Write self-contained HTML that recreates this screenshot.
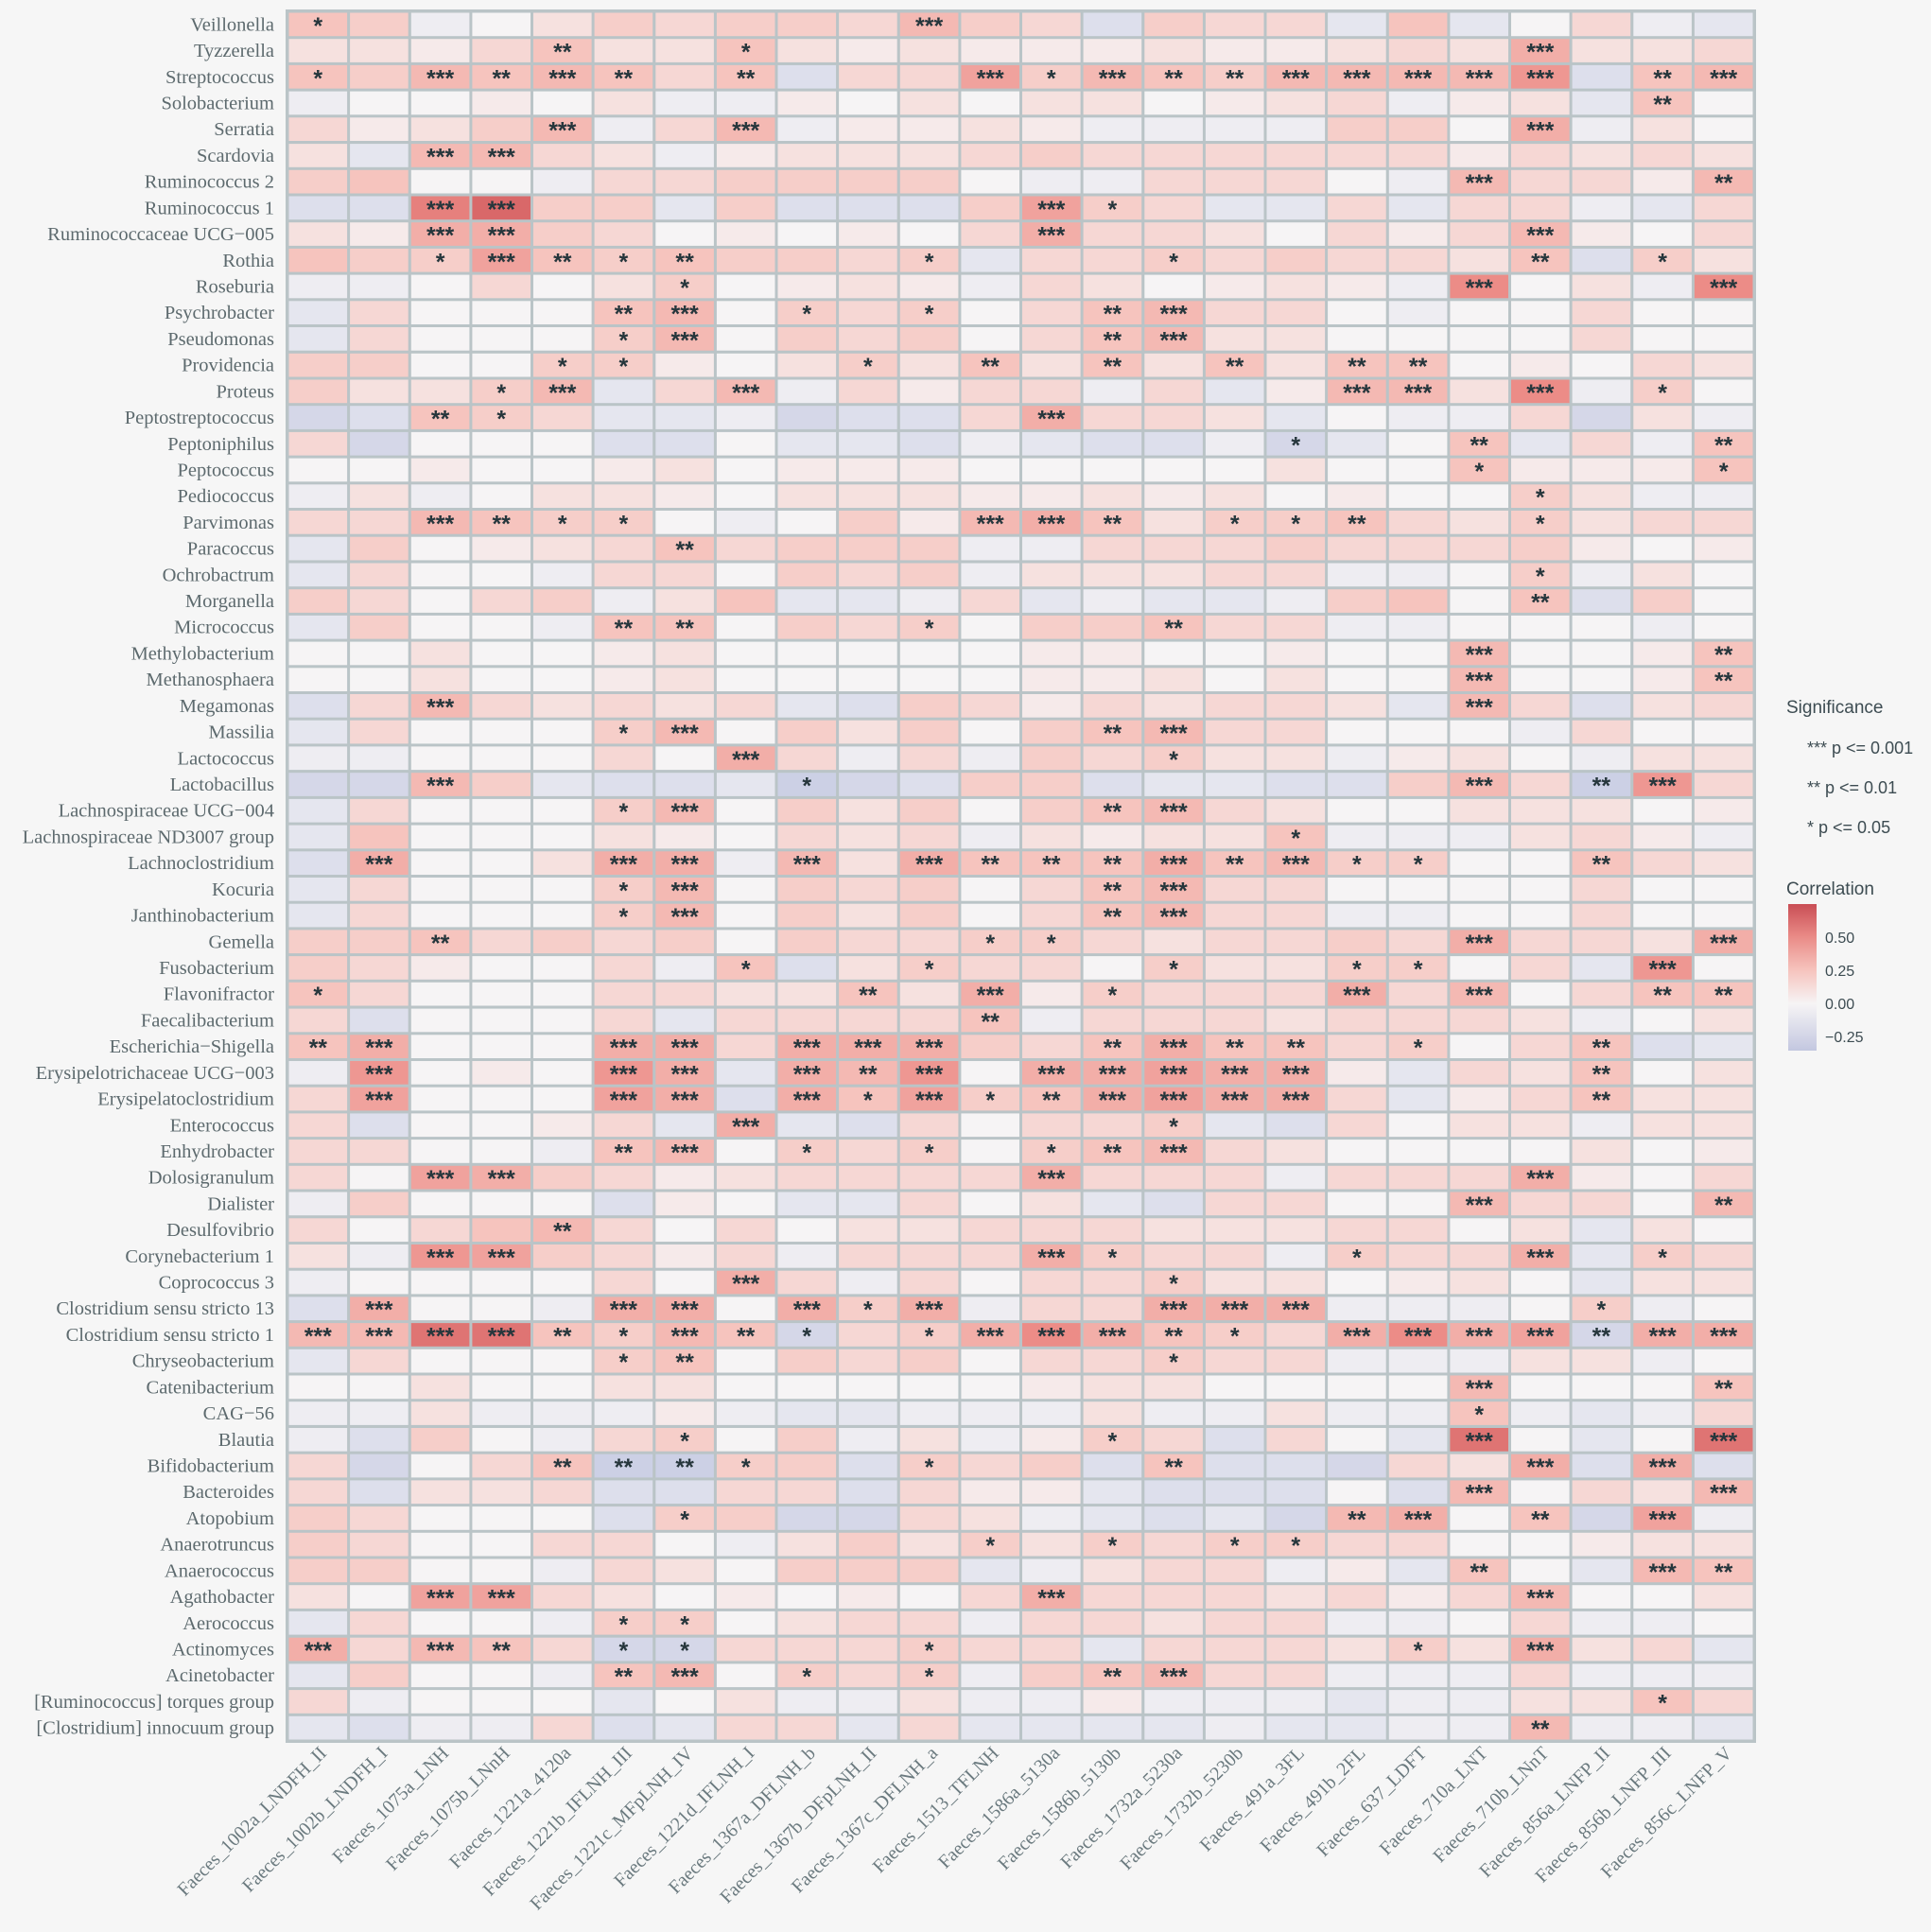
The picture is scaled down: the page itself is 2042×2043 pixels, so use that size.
<!DOCTYPE html>
<html><head><meta charset="utf-8"><style>
html,body{margin:0;padding:0;background:#f6f6f6;}
svg{display:block;}
</style></head><body>
<svg id="chart" width="2042" height="2043" xmlns="http://www.w3.org/2000/svg">
<rect x="0" y="0" width="2042" height="2043" fill="#f6f6f6"/>
<g id="cells"></g>
<g id="rowlabels"></g>
<g id="collabels"></g>
<g font-family="Liberation Sans, sans-serif" fill="#3d4c52">
<text x="1889" y="754" font-size="19">Significance</text>
<text x="1911" y="797" font-size="18">*** p &lt;= 0.001</text>
<text x="1911" y="839" font-size="18">** p &lt;= 0.01</text>
<text x="1911" y="881" font-size="18">* p &lt;= 0.05</text>
</g>
<defs><linearGradient id="cbar" x1="0" y1="0" x2="0" y2="1">
<stop offset="0" stop-color="#c94e55"/><stop offset="0.22" stop-color="#e98a86"/><stop offset="0.45" stop-color="#f6c3bd"/><stop offset="0.68" stop-color="#f6f4f5"/><stop offset="1" stop-color="#c3c7e0"/>
</linearGradient></defs>
<g font-family="Liberation Sans, sans-serif" fill="#3d4c52">
<text x="1889" y="946" font-size="19">Correlation</text>
<rect x="1891" y="956" width="30" height="155" fill="url(#cbar)"/>
<text x="1930" y="997" font-size="16">0.50</text>
<text x="1930" y="1032" font-size="16">0.25</text>
<text x="1930" y="1067" font-size="16">0.00</text>
<text x="1930" y="1102" font-size="16">−0.25</text>
</g>
</svg>
<script>
const columns = ["Faeces_1002a_LNDFH_II","Faeces_1002b_LNDFH_I","Faeces_1075a_LNH","Faeces_1075b_LNnH","Faeces_1221a_4120a","Faeces_1221b_IFLNH_III","Faeces_1221c_MFpLNH_IV","Faeces_1221d_IFLNH_I","Faeces_1367a_DFLNH_b","Faeces_1367b_DFpLNH_II","Faeces_1367c_DFLNH_a","Faeces_1513_TFLNH","Faeces_1586a_5130a","Faeces_1586b_5130b","Faeces_1732a_5230a","Faeces_1732b_5230b","Faeces_491a_3FL","Faeces_491b_2FL","Faeces_637_LDFT","Faeces_710a_LNT","Faeces_710b_LNnT","Faeces_856a_LNFP_II","Faeces_856b_LNFP_III","Faeces_856c_LNFP_V"];
const rows = ["Veillonella","Tyzzerella","Streptococcus","Solobacterium","Serratia","Scardovia","Ruminococcus 2","Ruminococcus 1","Ruminococcaceae UCG−005","Rothia","Roseburia","Psychrobacter","Pseudomonas","Providencia","Proteus","Peptostreptococcus","Peptoniphilus","Peptococcus","Pediococcus","Parvimonas","Paracoccus","Ochrobactrum","Morganella","Micrococcus","Methylobacterium","Methanosphaera","Megamonas","Massilia","Lactococcus","Lactobacillus","Lachnospiraceae UCG−004","Lachnospiraceae ND3007 group","Lachnoclostridium","Kocuria","Janthinobacterium","Gemella","Fusobacterium","Flavonifractor","Faecalibacterium","Escherichia−Shigella","Erysipelotrichaceae UCG−003","Erysipelatoclostridium","Enterococcus","Enhydrobacter","Dolosigranulum","Dialister","Desulfovibrio","Corynebacterium 1","Coprococcus 3","Clostridium sensu stricto 13","Clostridium sensu stricto 1","Chryseobacterium","Catenibacterium","CAG−56","Blautia","Bifidobacterium","Bacteroides","Atopobium","Anaerotruncus","Anaerococcus","Agathobacter","Aerococcus","Actinomyces","Acinetobacter","[Ruminococcus] torques group","[Clostridium] innocuum group"];
const correlations = [
[.25,.2,-.05,0,.1,.2,.15,.2,.2,.15,.3,.2,.15,-.15,.2,.15,.15,-.1,.25,-.1,0,.15,-.05,-.1],
[.1,.1,.05,.15,.25,.1,.1,.25,.1,.05,.1,.05,.05,.05,.1,.05,.05,.1,.15,.1,.35,.1,.1,.15],
[.25,.2,.3,.25,.3,.25,.15,.25,-.15,.15,.15,.4,.2,.3,.25,.2,.3,.3,.3,.3,.45,-.15,.25,.3],
[-.05,0,0,.05,0,.1,-.05,-.05,.05,0,.1,0,.1,.1,0,.05,.1,.15,-.05,.05,.1,-.1,.25,0],
[.15,.05,.1,.2,.3,-.05,.15,.3,-.05,.05,.05,.1,.05,-.05,-.05,-.05,-.05,.2,.2,0,.35,-.05,.1,0],
[.1,-.1,.3,.3,.15,.1,-.05,.05,.1,.1,.1,.15,.2,.15,.15,.15,.15,.15,.15,.05,.15,.1,.15,.1],
[.2,.25,0,0,-.05,.15,.15,.2,.2,.2,.2,0,-.05,-.05,.15,.15,.15,0,-.05,.3,.15,.15,.05,.3],
[-.15,-.15,.55,.65,.2,.2,-.1,.2,-.15,-.15,-.15,.2,.4,.2,.15,-.1,-.1,.15,-.1,.15,.15,-.05,-.1,.15],
[.1,.05,.35,.35,.2,.15,0,.05,0,.05,0,.15,.35,.15,.15,.1,0,.15,.05,.15,.3,.05,0,.15],
[.25,.2,.2,.4,.25,.2,.25,.2,.2,.15,.2,-.1,.15,.15,.2,.15,.2,.15,.15,.1,.25,-.15,.2,.1],
[-.05,-.05,0,.15,0,.1,.2,0,.05,.1,.05,-.05,.15,.1,0,.05,.1,.05,-.05,.5,0,.1,-.05,.5],
[-.1,.15,0,0,0,.25,.3,0,.2,.15,.2,0,.15,.25,.3,.15,.15,0,-.05,0,0,.15,0,0],
[-.1,.15,0,0,0,.2,.3,0,.2,.15,.2,0,.15,.25,.3,.1,.1,0,0,0,0,.15,0,0],
[.2,.2,0,0,.2,.2,.05,0,.1,.2,.1,.25,.1,.25,.1,.25,.1,.25,.25,0,.05,0,.15,.1],
[.2,.1,.1,.2,.3,-.1,.15,.3,-.05,.15,.05,.15,.15,-.05,.15,-.1,.05,.3,.3,.1,.5,-.05,.2,0],
[-.2,-.15,.25,.2,.15,-.1,-.1,-.05,-.2,-.15,-.15,.15,.35,.15,.15,.1,-.1,0,-.05,-.05,.15,-.2,.1,-.05],
[.15,-.2,0,0,0,-.15,-.15,0,-.1,-.1,-.15,-.05,-.1,-.15,-.15,-.05,-.2,-.1,0,.25,-.1,.15,-.05,.25],
[0,0,.05,0,0,.05,.1,0,.05,.05,.05,0,0,0,0,0,.1,0,0,.25,.05,.05,.05,.25],
[-.05,.1,-.05,0,.1,.1,.05,0,.1,.1,.1,.05,.05,.1,.05,.1,0,.05,0,0,.2,.1,-.05,-.05],
[.15,.15,.3,.25,.2,.2,0,-.05,0,.2,.05,.3,.35,.25,.1,.2,.2,.25,.15,.1,.2,.1,.15,.15],
[-.1,.2,0,.05,.1,.15,.25,.15,.2,.2,.2,-.05,-.05,.15,.15,.15,.2,.15,.15,.15,.2,.05,0,.05],
[-.1,.15,0,0,-.05,.15,.15,0,.2,.15,.2,-.05,.1,.1,.1,.15,.15,-.05,-.05,0,.2,-.05,.1,0],
[.2,.15,0,.15,.2,-.05,.1,.25,-.1,-.1,-.05,.15,-.1,-.05,-.1,-.1,-.05,.2,.25,0,.25,-.15,.2,0],
[-.1,.2,0,0,-.05,.25,.25,0,.2,.15,.2,0,.2,.2,.25,.15,.15,-.05,-.05,0,0,0,-.05,0],
[0,0,.1,0,0,.05,.1,0,0,0,0,0,.05,.05,0,0,.05,0,0,.3,0,0,.05,.25],
[0,0,.1,0,0,.05,.1,0,0,0,0,0,.05,.05,.1,0,.1,0,0,.3,0,0,.05,.25],
[-.15,.15,.3,.15,.1,.15,.1,.15,-.1,-.15,.2,.15,.05,.15,.1,.15,.15,.1,-.1,.3,.15,-.15,.1,.15],
[-.1,.15,0,0,0,.2,.3,0,.2,.1,.2,0,.2,.25,.3,.15,.15,0,0,0,-.05,.15,0,0],
[-.05,-.05,0,0,0,.15,0,.35,.15,-.05,.15,-.05,.2,.15,.2,.1,.1,-.05,.05,.1,0,-.05,.1,.1],
[-.2,-.2,.3,.2,-.1,-.15,-.15,-.1,-.25,-.2,-.15,.2,.2,-.15,-.1,-.1,-.15,-.15,.2,.3,.15,-.25,.45,.15],
[-.1,.15,0,0,0,.2,.3,0,.2,.1,.2,0,.2,.25,.3,.15,.1,0,0,.1,.1,.1,0,.05],
[-.1,.25,0,0,0,.1,.05,0,.15,.1,.15,-.05,.1,.05,.1,.1,.25,-.05,-.05,-.05,.1,.15,.05,-.05],
[-.15,.35,0,0,.1,.35,.35,-.05,.3,.1,.35,.25,.25,.25,.35,.25,.3,.2,.2,0,0,.25,.15,.1],
[-.1,.15,0,0,0,.2,.3,0,.2,.15,.2,0,.15,.25,.3,.15,.15,0,0,0,0,.15,0,0],
[-.1,.15,0,0,0,.2,.3,0,.2,.1,.2,0,.15,.25,.3,.15,.15,-.05,-.05,0,0,.15,0,0],
[.2,.2,.25,.15,.2,.15,.2,0,.2,.15,.15,.2,.2,.15,.1,.15,.15,.2,.15,.35,.15,.15,.1,.35],
[.2,.15,.05,0,0,.15,-.05,.25,-.15,.1,.2,.15,.15,0,.2,.1,.1,.2,.2,0,.15,-.1,.45,0],
[.25,.15,0,0,0,.15,.15,.1,.1,.25,.1,.35,.05,.2,.15,.15,.15,.35,.15,.3,0,.15,.25,.25],
[.15,-.15,0,0,0,.15,-.1,.15,.15,.15,.15,.25,-.05,.15,.15,.15,.1,.15,.15,.15,.1,-.05,0,.1],
[.25,.35,0,0,0,.35,.35,.15,.35,.35,.35,.2,.15,.25,.35,.25,.25,.15,.2,0,.15,.25,-.15,-.1],
[-.05,.45,0,.05,0,.45,.35,-.1,.35,.3,.45,0,.35,.35,.4,.35,.35,.05,-.1,.15,.1,.25,0,.1],
[.15,.4,0,0,0,.4,.35,-.15,.35,.25,.4,.2,.25,.35,.4,.35,.35,.15,-.1,.05,.15,.25,.1,.1],
[.15,-.15,0,0,.05,.15,-.1,.35,-.1,-.15,.15,0,.15,.15,.2,-.1,-.15,.15,0,.1,.1,-.05,.1,.1],
[.15,.15,0,0,-.05,.25,.3,0,.2,.15,.2,0,.2,.25,.3,.15,.1,0,0,0,0,.1,0,.05],
[.15,0,.4,.35,.2,.15,.05,.1,.15,.15,.15,.15,.35,.15,.15,.15,-.05,.15,.15,.15,.35,.05,0,.15],
[-.05,.2,0,0,0,-.15,.05,0,-.1,-.1,.15,0,.1,-.1,-.15,.15,.15,0,0,.3,.15,.15,0,.3],
[.15,0,.15,.25,.3,.15,0,.15,0,.1,.1,.15,.15,.15,.1,.1,.1,.15,.15,0,.1,-.1,.1,0],
[.1,-.05,.45,.4,.2,.15,.05,.15,-.05,.15,.15,.15,.35,.2,.15,.15,-.05,.2,.15,.15,.35,-.1,.2,.15],
[-.05,0,0,0,0,.15,0,.35,.15,-.05,.15,0,.15,.15,.2,.1,.1,0,.05,.1,0,-.1,.1,.1],
[-.15,.35,0,0,-.05,.35,.35,0,.35,.2,.35,-.05,.15,.15,.35,.35,.35,-.05,-.05,-.05,0,.2,-.05,0],
[.3,.3,.6,.6,.25,.2,.3,.25,-.2,.15,.2,.35,.5,.35,.25,.2,.15,.35,.5,.35,.4,-.2,.35,.35],
[-.1,.15,0,0,0,.2,.25,0,.2,.15,.2,0,.15,.15,.2,.15,.15,-.05,-.05,-.05,.1,.1,-.05,0],
[0,0,.1,0,0,.1,.1,0,0,0,0,0,.05,.1,.1,0,0,0,0,.3,0,0,0,.25],
[-.05,-.05,.1,-.05,-.05,-.05,.05,-.05,-.1,-.1,-.05,-.05,-.05,.1,-.05,-.05,.1,-.05,-.05,.25,-.05,-.1,-.05,.15],
[-.05,-.15,.2,0,-.05,.15,.2,0,.2,-.05,.1,-.05,.05,.2,.15,-.15,.15,0,-.1,.6,0,-.1,0,.6],
[.15,-.2,0,.15,.25,-.25,-.25,.2,.2,-.15,.2,.15,.2,-.15,.25,-.15,-.15,-.2,.15,.1,.35,-.15,.35,-.15],
[.15,-.15,.1,.1,.15,-.15,-.15,.15,.15,-.15,.15,.05,.05,-.1,-.15,-.15,-.15,0,-.15,.3,0,.15,.1,.3],
[.2,.15,0,0,0,-.15,.2,.2,-.2,-.2,.15,.1,-.05,-.1,-.15,-.1,-.2,.3,.35,0,.25,-.2,.4,-.05],
[.2,.15,0,0,.15,.15,0,-.05,.1,.2,.1,.2,.1,.2,.15,.2,.2,.15,.15,0,0,.05,.1,.1],
[.2,.2,0,0,-.05,.15,.1,0,.2,.2,.2,-.1,-.05,.1,.15,.15,-.05,.05,-.1,.25,0,-.1,.3,.25],
[.1,0,.4,.4,.15,.1,0,.05,0,.05,0,.15,.35,.15,.15,.15,.1,.15,.05,.15,.3,0,0,.1],
[-.1,.15,0,0,-.05,.2,.2,0,.1,.15,.15,-.05,.15,.15,.1,.15,.15,-.05,-.05,0,.15,-.05,-.05,0],
[.35,.15,.3,.25,.15,-.2,-.2,.15,.15,.15,.2,.15,.15,-.1,.15,.15,.15,.1,.2,.1,.35,.1,.15,-.1],
[-.1,.2,0,0,-.05,.25,.3,0,.2,.15,.2,-.05,.2,.25,.3,.15,.15,-.05,-.05,-.05,.15,-.05,-.05,-.05],
[.15,-.05,0,0,0,-.1,0,.1,-.05,-.05,.1,-.05,-.05,.05,-.05,-.05,-.05,-.1,-.05,-.05,.1,.1,.25,.15],
[-.1,-.15,-.05,-.05,.15,-.15,-.1,.15,.15,-.1,.15,-.1,-.1,-.1,-.1,-.05,-.1,-.1,-.05,-.05,.3,-.05,-.05,-.1]
];
const significance = [
[1,0,0,0,0,0,0,0,0,0,3,0,0,0,0,0,0,0,0,0,0,0,0,0],
[0,0,0,0,2,0,0,1,0,0,0,0,0,0,0,0,0,0,0,0,3,0,0,0],
[1,0,3,2,3,2,0,2,0,0,0,3,1,3,2,2,3,3,3,3,3,0,2,3],
[0,0,0,0,0,0,0,0,0,0,0,0,0,0,0,0,0,0,0,0,0,0,2,0],
[0,0,0,0,3,0,0,3,0,0,0,0,0,0,0,0,0,0,0,0,3,0,0,0],
[0,0,3,3,0,0,0,0,0,0,0,0,0,0,0,0,0,0,0,0,0,0,0,0],
[0,0,0,0,0,0,0,0,0,0,0,0,0,0,0,0,0,0,0,3,0,0,0,2],
[0,0,3,3,0,0,0,0,0,0,0,0,3,1,0,0,0,0,0,0,0,0,0,0],
[0,0,3,3,0,0,0,0,0,0,0,0,3,0,0,0,0,0,0,0,3,0,0,0],
[0,0,1,3,2,1,2,0,0,0,1,0,0,0,1,0,0,0,0,0,2,0,1,0],
[0,0,0,0,0,0,1,0,0,0,0,0,0,0,0,0,0,0,0,3,0,0,0,3],
[0,0,0,0,0,2,3,0,1,0,1,0,0,2,3,0,0,0,0,0,0,0,0,0],
[0,0,0,0,0,1,3,0,0,0,0,0,0,2,3,0,0,0,0,0,0,0,0,0],
[0,0,0,0,1,1,0,0,0,1,0,2,0,2,0,2,0,2,2,0,0,0,0,0],
[0,0,0,1,3,0,0,3,0,0,0,0,0,0,0,0,0,3,3,0,3,0,1,0],
[0,0,2,1,0,0,0,0,0,0,0,0,3,0,0,0,0,0,0,0,0,0,0,0],
[0,0,0,0,0,0,0,0,0,0,0,0,0,0,0,0,1,0,0,2,0,0,0,2],
[0,0,0,0,0,0,0,0,0,0,0,0,0,0,0,0,0,0,0,1,0,0,0,1],
[0,0,0,0,0,0,0,0,0,0,0,0,0,0,0,0,0,0,0,0,1,0,0,0],
[0,0,3,2,1,1,0,0,0,0,0,3,3,2,0,1,1,2,0,0,1,0,0,0],
[0,0,0,0,0,0,2,0,0,0,0,0,0,0,0,0,0,0,0,0,0,0,0,0],
[0,0,0,0,0,0,0,0,0,0,0,0,0,0,0,0,0,0,0,0,1,0,0,0],
[0,0,0,0,0,0,0,0,0,0,0,0,0,0,0,0,0,0,0,0,2,0,0,0],
[0,0,0,0,0,2,2,0,0,0,1,0,0,0,2,0,0,0,0,0,0,0,0,0],
[0,0,0,0,0,0,0,0,0,0,0,0,0,0,0,0,0,0,0,3,0,0,0,2],
[0,0,0,0,0,0,0,0,0,0,0,0,0,0,0,0,0,0,0,3,0,0,0,2],
[0,0,3,0,0,0,0,0,0,0,0,0,0,0,0,0,0,0,0,3,0,0,0,0],
[0,0,0,0,0,1,3,0,0,0,0,0,0,2,3,0,0,0,0,0,0,0,0,0],
[0,0,0,0,0,0,0,3,0,0,0,0,0,0,1,0,0,0,0,0,0,0,0,0],
[0,0,3,0,0,0,0,0,1,0,0,0,0,0,0,0,0,0,0,3,0,2,3,0],
[0,0,0,0,0,1,3,0,0,0,0,0,0,2,3,0,0,0,0,0,0,0,0,0],
[0,0,0,0,0,0,0,0,0,0,0,0,0,0,0,0,1,0,0,0,0,0,0,0],
[0,3,0,0,0,3,3,0,3,0,3,2,2,2,3,2,3,1,1,0,0,2,0,0],
[0,0,0,0,0,1,3,0,0,0,0,0,0,2,3,0,0,0,0,0,0,0,0,0],
[0,0,0,0,0,1,3,0,0,0,0,0,0,2,3,0,0,0,0,0,0,0,0,0],
[0,0,2,0,0,0,0,0,0,0,0,1,1,0,0,0,0,0,0,3,0,0,0,3],
[0,0,0,0,0,0,0,1,0,0,1,0,0,0,1,0,0,1,1,0,0,0,3,0],
[1,0,0,0,0,0,0,0,0,2,0,3,0,1,0,0,0,3,0,3,0,0,2,2],
[0,0,0,0,0,0,0,0,0,0,0,2,0,0,0,0,0,0,0,0,0,0,0,0],
[2,3,0,0,0,3,3,0,3,3,3,0,0,2,3,2,2,0,1,0,0,2,0,0],
[0,3,0,0,0,3,3,0,3,2,3,0,3,3,3,3,3,0,0,0,0,2,0,0],
[0,3,0,0,0,3,3,0,3,1,3,1,2,3,3,3,3,0,0,0,0,2,0,0],
[0,0,0,0,0,0,0,3,0,0,0,0,0,0,1,0,0,0,0,0,0,0,0,0],
[0,0,0,0,0,2,3,0,1,0,1,0,1,2,3,0,0,0,0,0,0,0,0,0],
[0,0,3,3,0,0,0,0,0,0,0,0,3,0,0,0,0,0,0,0,3,0,0,0],
[0,0,0,0,0,0,0,0,0,0,0,0,0,0,0,0,0,0,0,3,0,0,0,2],
[0,0,0,0,2,0,0,0,0,0,0,0,0,0,0,0,0,0,0,0,0,0,0,0],
[0,0,3,3,0,0,0,0,0,0,0,0,3,1,0,0,0,1,0,0,3,0,1,0],
[0,0,0,0,0,0,0,3,0,0,0,0,0,0,1,0,0,0,0,0,0,0,0,0],
[0,3,0,0,0,3,3,0,3,1,3,0,0,0,3,3,3,0,0,0,0,1,0,0],
[3,3,3,3,2,1,3,2,1,0,1,3,3,3,2,1,0,3,3,3,3,2,3,3],
[0,0,0,0,0,1,2,0,0,0,0,0,0,0,1,0,0,0,0,0,0,0,0,0],
[0,0,0,0,0,0,0,0,0,0,0,0,0,0,0,0,0,0,0,3,0,0,0,2],
[0,0,0,0,0,0,0,0,0,0,0,0,0,0,0,0,0,0,0,1,0,0,0,0],
[0,0,0,0,0,0,1,0,0,0,0,0,0,1,0,0,0,0,0,3,0,0,0,3],
[0,0,0,0,2,2,2,1,0,0,1,0,0,0,2,0,0,0,0,0,3,0,3,0],
[0,0,0,0,0,0,0,0,0,0,0,0,0,0,0,0,0,0,0,3,0,0,0,3],
[0,0,0,0,0,0,1,0,0,0,0,0,0,0,0,0,0,2,3,0,2,0,3,0],
[0,0,0,0,0,0,0,0,0,0,0,1,0,1,0,1,1,0,0,0,0,0,0,0],
[0,0,0,0,0,0,0,0,0,0,0,0,0,0,0,0,0,0,0,2,0,0,3,2],
[0,0,3,3,0,0,0,0,0,0,0,0,3,0,0,0,0,0,0,0,3,0,0,0],
[0,0,0,0,0,1,1,0,0,0,0,0,0,0,0,0,0,0,0,0,0,0,0,0],
[3,0,3,2,0,1,1,0,0,0,1,0,0,0,0,0,0,0,1,0,3,0,0,0],
[0,0,0,0,0,2,3,0,1,0,1,0,0,2,3,0,0,0,0,0,0,0,0,0],
[0,0,0,0,0,0,0,0,0,0,0,0,0,0,0,0,0,0,0,0,0,0,1,0],
[0,0,0,0,0,0,0,0,0,0,0,0,0,0,0,0,0,0,0,0,2,0,0,0]
];
const NS = "http://www.w3.org/2000/svg";
const X0 = 304, X1 = 1855, Y0 = 12, Y1 = 1841;
const cw = (X1 - X0) / columns.length, rh = (Y1 - Y0) / rows.length;
function xPos(i){ return X0 + i * cw; }
function yPos(j){ return Y0 + j * rh; }
function lerp(a,b,t){ return a.map((v,k)=>Math.round(v+(b[k]-v)*t)); }
function colorFor(v){
  const neg=[196,201,226], zero=[246,244,245], p1=[246,196,190], p2=[236,140,135], p3=[204,80,85];
  let c;
  if (v < 0) c = lerp(zero, neg, Math.min(1, -v/0.3));
  else if (v < 0.25) c = lerp(zero, p1, v/0.25);
  else if (v < 0.5) c = lerp(p1, p2, (v-0.25)/0.25);
  else c = lerp(p2, p3, Math.min(1,(v-0.5)/0.25));
  return "rgb("+c.join(",")+")";
}
const gC = document.getElementById("cells");
const bg = document.createElementNS(NS,"rect");
bg.setAttribute("x", X0-2); bg.setAttribute("y", Y0-2);
bg.setAttribute("width", X1-X0+4); bg.setAttribute("height", Y1-Y0+4);
bg.setAttribute("fill", "#bac4c7");


gC.appendChild(bg);
for (let j = 0; j < rows.length; j++) {
  for (let i = 0; i < columns.length; i++) {
    const r = document.createElementNS(NS,"rect");
    r.setAttribute("x", (xPos(i)+1.5).toFixed(1));
    r.setAttribute("y", (yPos(j)+1.5).toFixed(1));
    r.setAttribute("width", (cw-3).toFixed(1));
    r.setAttribute("height", (rh-3).toFixed(1));
    r.setAttribute("fill", colorFor(correlations[j][i]));
    
    
    gC.appendChild(r);
    const s = significance[j][i];
    if (s > 0) {
      const t = document.createElementNS(NS,"text");
      t.setAttribute("x", (xPos(i)+cw/2).toFixed(1));
      t.setAttribute("y", (yPos(j)+rh/2+10).toFixed(1));
      t.setAttribute("text-anchor", "middle");
      t.setAttribute("font-family", "Liberation Sans, sans-serif");
      t.setAttribute("font-size", "25");
      t.setAttribute("font-weight", "bold");
      t.setAttribute("fill", "#26363c");
      t.textContent = "*".repeat(s);
      
      
      gC.appendChild(t);
    }
  }
}
const gR = document.getElementById("rowlabels");
rows.forEach((name, j) => {
  const t = document.createElementNS(NS,"text");
  t.setAttribute("x", X0 - 14);
  t.setAttribute("y", (yPos(j)+rh/2+6.5).toFixed(1));
  t.setAttribute("text-anchor", "end");
  t.setAttribute("font-family", "Liberation Serif, serif");
  t.setAttribute("font-size", "20.5");
  t.setAttribute("fill", "#5d6a6e");
  t.textContent = name;
  
  
  gR.appendChild(t);
});
const gX = document.getElementById("collabels");
columns.forEach((name, i) => {
  const cx = xPos(i) + cw/2 + 10, cy = Y1 + 14;
  const t = document.createElementNS(NS,"text");
  t.setAttribute("x", cx.toFixed(1));
  t.setAttribute("y", cy.toFixed(1));
  t.setAttribute("text-anchor", "end");
  t.setAttribute("transform", "rotate(-45 "+cx.toFixed(1)+" "+cy.toFixed(1)+")");
  t.setAttribute("font-family", "Liberation Serif, serif");
  t.setAttribute("font-size", "20");
  t.setAttribute("fill", "#6b7a7f");
  t.textContent = name;
  
  
  gX.appendChild(t);
});
</script>
</body></html>
